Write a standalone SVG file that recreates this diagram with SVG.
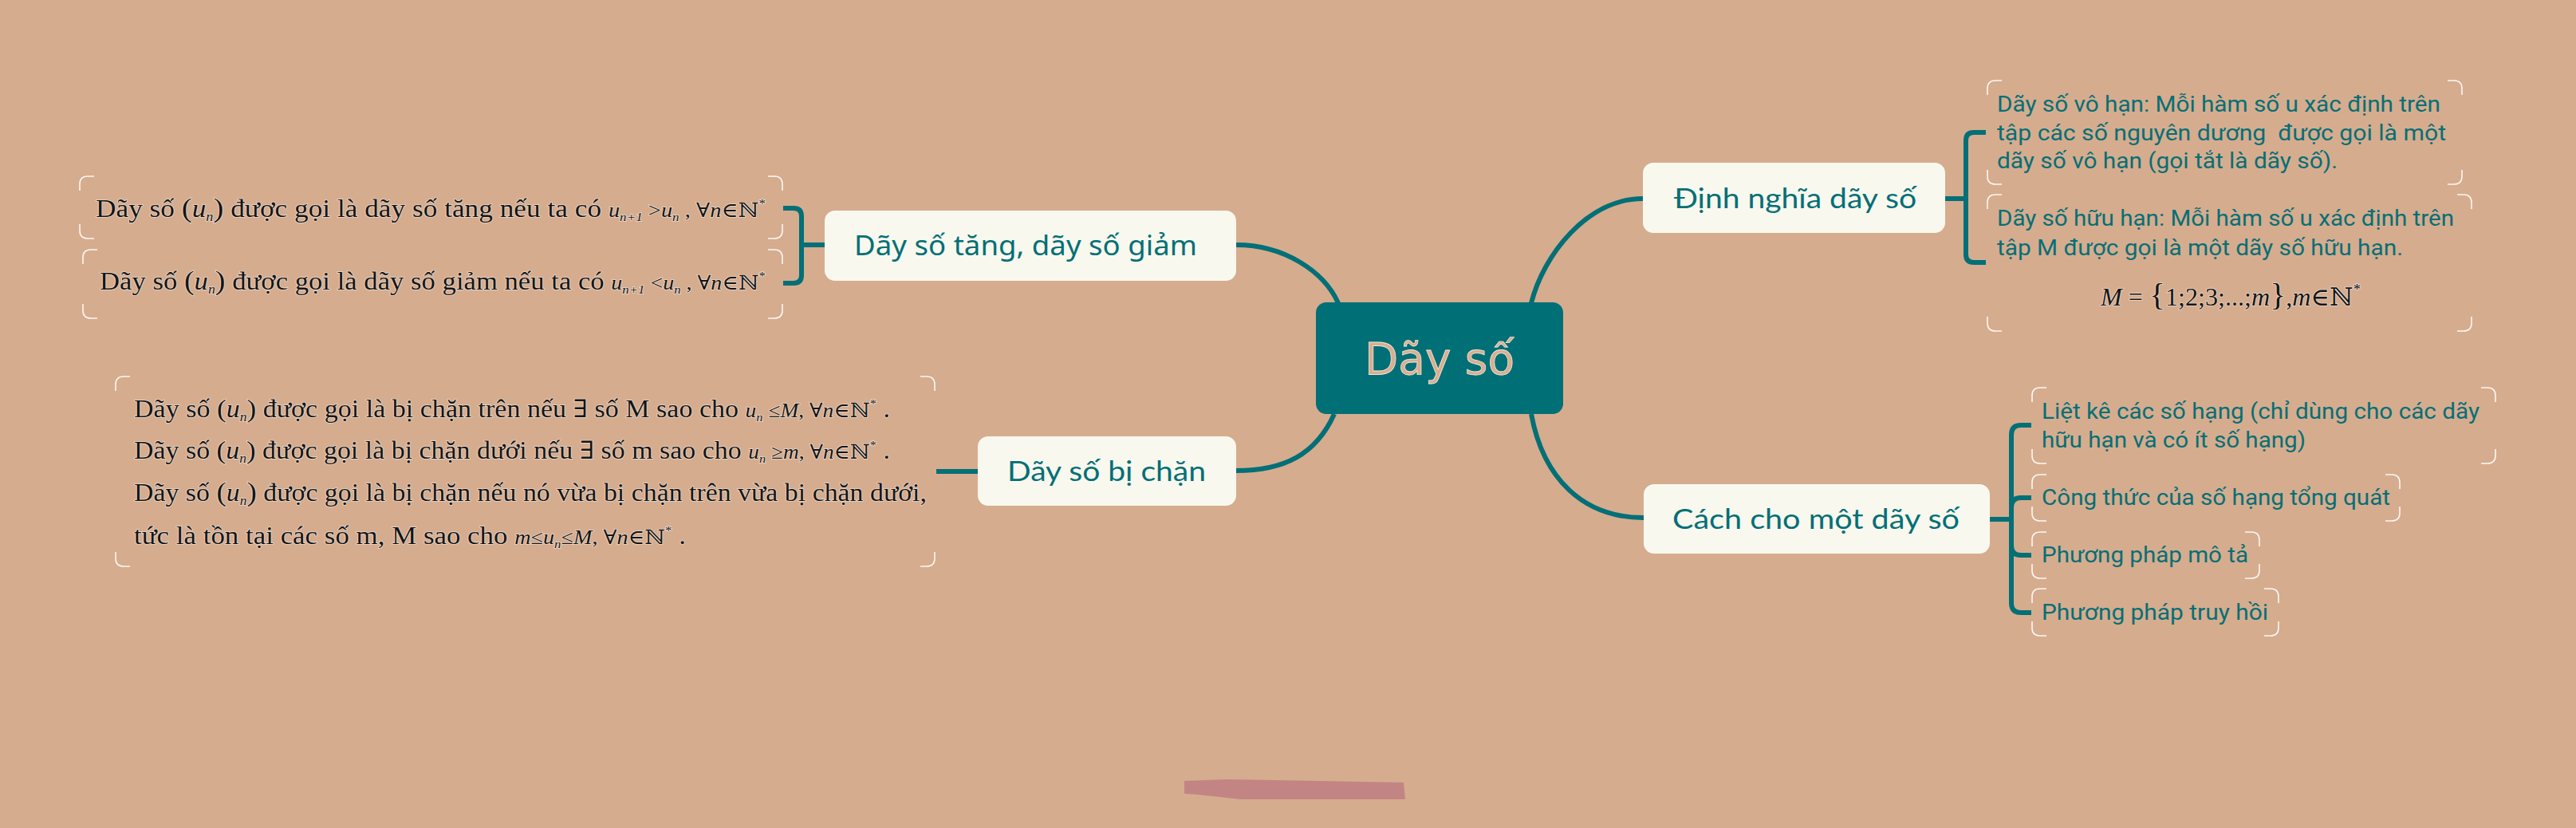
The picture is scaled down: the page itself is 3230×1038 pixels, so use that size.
<svg xmlns="http://www.w3.org/2000/svg" width="3230" height="1038" viewBox="0 0 3230 1038">
<style>
.node{fill:#F8F8EE}
.nt{fill:#036F77;font-family:Lato,"Noto Sans",sans-serif;font-size:35px}
.conn{fill:none;stroke:#036F77;stroke-width:6;stroke-linecap:butt}
.corner{fill:none;stroke:#FFFFFF;stroke-width:1.6;stroke-opacity:0.9}
.it{fill:#056F76;font-family:Roboto,"Noto Sans",sans-serif;font-size:28px;font-weight:400}
.tm{fill:#151515;font-family:"Liberation Serif","DejaVu Serif",serif;font-size:31px;stroke:#FFFFFF;stroke-width:1.6;stroke-opacity:0.55;paint-order:stroke}
.i{font-style:italic}
</style>
<rect width="3230" height="1038" fill="#D6AC8E"/>
<g id="connectors">
<path class="conn" d="M1550,307C1610,307 1660,340 1678,380"/>
<path class="conn" d="M1673,519C1650,570 1610,590 1550,590"/>
<path class="conn" d="M1920,380C1935,320 1990,249 2060,249"/>
<path class="conn" d="M1920,519C1935,600 1985,649 2061,649"/>
<path class="conn" d="M1034,307H1005M1005,307V271Q1005,261 995,261H982M1005,307V345Q1005,355 995,355H982"/>
<path class="conn" d="M1226,591H1174"/>
<path class="conn" d="M2439,249H2465M2465,249V176Q2465,166 2475,166H2490M2465,249V319Q2465,329 2475,329H2490"/>
<path class="conn" d="M2495,651H2522M2522,651V545Q2522,533 2534,533H2547M2522,651V636Q2522,624 2534,624H2547M2522,651V684Q2522,696 2534,696H2547M2522,651V756Q2522,768 2534,768H2547"/>
</g>
<g id="root">
<rect x="1650" y="379" width="310" height="140" rx="13" fill="#006F76"/>
<text x="1711" y="469" textLength="188" lengthAdjust="spacingAndGlyphs" font-family="'DejaVu Sans',sans-serif" font-size="56" fill="#D9AE90" stroke="#F3E6DA" stroke-width="0.8">Dãy số</text>
</g>
<g id="n-tang">
<rect class="node" x="1034" y="264" width="516" height="88" rx="13"/>
<text class="nt" x="1071" y="320" textLength="430" lengthAdjust="spacingAndGlyphs" style="font-family:'Noto Sans','Open Sans',sans-serif;font-size:34px">Dãy số tăng, dãy số giảm</text>
</g>
<g id="n-chan">
<rect class="node" x="1226" y="547" width="324" height="87" rx="13"/>
<text class="nt" x="1263" y="603" textLength="249" lengthAdjust="spacingAndGlyphs">Dãy số bị chặn</text>
</g>
<g id="n-dinhnghia">
<rect class="node" x="2060" y="204" width="379" height="88" rx="13"/>
<text class="nt" x="2099" y="261" textLength="304" lengthAdjust="spacingAndGlyphs">Định nghĩa dãy số</text>
</g>
<g id="n-cachcho">
<rect class="node" x="2061" y="607" width="434" height="87" rx="13"/>
<text class="nt" x="2097" y="663" textLength="360" lengthAdjust="spacingAndGlyphs">Cách cho một dãy số</text>
</g>
<g id="t-tang">
<path class="corner" d="M100,239V231Q100,221 110,221H118M963,221H971Q981,221 981,231V239M981,281V289Q981,299 971,299H963M118,299H110Q100,299 100,289V281"/>
<text class="tm" x="120" y="272" textLength="840" lengthAdjust="spacingAndGlyphs">Dãy số <tspan font-size="34">(</tspan><tspan class="i">u</tspan><tspan class="i" font-size="16" dy="5">n</tspan><tspan font-size="34" dy="-5">)</tspan> được gọi là dãy số tăng nếu ta có <tspan class="i" font-size="25">u</tspan><tspan class="i" font-size="15" dy="5">n+1</tspan><tspan font-size="25" dy="-5"> &gt;</tspan><tspan class="i" font-size="25">u</tspan><tspan class="i" font-size="15" dy="5">n</tspan><tspan font-size="25" dy="-5"> , ∀</tspan><tspan class="i" font-size="25">n</tspan><tspan font-size="25">∈ℕ</tspan><tspan font-size="15" dy="-12">*</tspan></text>
</g>
<g id="t-giam">
<path class="corner" d="M104,331V323Q104,313 114,313H122M963,313H971Q981,313 981,323V331M981,381V389Q981,399 971,399H963M122,399H114Q104,399 104,389V381"/>
<text class="tm" x="125" y="363" textLength="835" lengthAdjust="spacingAndGlyphs">Dãy số <tspan font-size="34">(</tspan><tspan class="i">u</tspan><tspan class="i" font-size="16" dy="5">n</tspan><tspan font-size="34" dy="-5">)</tspan> được gọi là dãy số giảm nếu ta có <tspan class="i" font-size="25">u</tspan><tspan class="i" font-size="15" dy="5">n+1</tspan><tspan font-size="25" dy="-5"> &lt;</tspan><tspan class="i" font-size="25">u</tspan><tspan class="i" font-size="15" dy="5">n</tspan><tspan font-size="25" dy="-5"> , ∀</tspan><tspan class="i" font-size="25">n</tspan><tspan font-size="25">∈ℕ</tspan><tspan font-size="15" dy="-12">*</tspan></text>
</g>
<g id="t-chan">
<path class="corner" d="M145,490V482Q145,472 155,472H163M1154,472H1162Q1172,472 1172,482V490M1172,692V700Q1172,710 1162,710H1154M163,710H155Q145,710 145,700V692"/>
<text class="tm" x="168" y="523" textLength="948" lengthAdjust="spacingAndGlyphs">Dãy số <tspan font-size="32">(</tspan><tspan class="i">u</tspan><tspan class="i" font-size="16" dy="5">n</tspan><tspan font-size="32" dy="-5">)</tspan> được gọi là bị chặn trên nếu ∃ số M sao cho <tspan class="i" font-size="25">u</tspan><tspan class="i" font-size="15" dy="5">n</tspan><tspan font-size="25" dy="-5"> ≤</tspan><tspan class="i" font-size="25">M</tspan><tspan font-size="25">,  ∀</tspan><tspan class="i" font-size="25">n</tspan><tspan font-size="25">∈ℕ</tspan><tspan font-size="15" dy="-12">*</tspan><tspan dy="12"> .</tspan></text>
<text class="tm" x="168" y="575" textLength="948" lengthAdjust="spacingAndGlyphs">Dãy số <tspan font-size="32">(</tspan><tspan class="i">u</tspan><tspan class="i" font-size="16" dy="5">n</tspan><tspan font-size="32" dy="-5">)</tspan> được gọi là bị chặn dưới nếu ∃ số m sao cho <tspan class="i" font-size="25">u</tspan><tspan class="i" font-size="15" dy="5">n</tspan><tspan font-size="25" dy="-5"> ≥</tspan><tspan class="i" font-size="25">m</tspan><tspan font-size="25">,  ∀</tspan><tspan class="i" font-size="25">n</tspan><tspan font-size="25">∈ℕ</tspan><tspan font-size="15" dy="-12">*</tspan><tspan dy="12"> .</tspan></text>
<text class="tm" x="168" y="628" textLength="994" lengthAdjust="spacingAndGlyphs">Dãy số <tspan font-size="34">(</tspan><tspan class="i">u</tspan><tspan class="i" font-size="16" dy="5">n</tspan><tspan font-size="34" dy="-5">)</tspan> được gọi là bị chặn nếu nó vừa bị chặn trên vừa bị chặn dưới,</text>
<text class="tm" x="168" y="682" textLength="692" lengthAdjust="spacingAndGlyphs">tức là tồn tại các số m, M sao cho <tspan class="i" font-size="25">m</tspan><tspan font-size="25">≤</tspan><tspan class="i" font-size="25">u</tspan><tspan class="i" font-size="15" dy="5">n</tspan><tspan font-size="25" dy="-5">≤</tspan><tspan class="i" font-size="25">M</tspan><tspan font-size="25">, ∀</tspan><tspan class="i" font-size="25">n</tspan><tspan font-size="25">∈ℕ</tspan><tspan font-size="15" dy="-12">*</tspan><tspan dy="12"> .</tspan></text>
</g>
<g id="t-vohan">
<path class="corner" d="M2492,119V111Q2492,101 2502,101H2510M3069,101H3077Q3087,101 3087,111V119M3087,213V221Q3087,231 3077,231H3069M2510,231H2502Q2492,231 2492,221V213"/>
<text class="it" x="2504" y="140" textLength="556" lengthAdjust="spacingAndGlyphs">Dãy số vô hạn: Mỗi hàm số u xác định trên</text>
<text class="it" x="2504" y="176" textLength="563" lengthAdjust="spacingAndGlyphs" style="white-space:pre">tập các số nguyên dương  được gọi là một</text>
<text class="it" x="2504" y="211" textLength="427" lengthAdjust="spacingAndGlyphs">dãy số vô hạn (gọi tắt là dãy số).</text>
</g>
<g id="t-huuhan">
<path class="corner" d="M2492,262V254Q2492,244 2502,244H2510M3081,244H3089Q3099,244 3099,254V262M3099,397V405Q3099,415 3089,415H3081M2510,415H2502Q2492,415 2492,405V397"/>
<text class="it" x="2504" y="283" textLength="573" lengthAdjust="spacingAndGlyphs">Dãy số hữu hạn: Mỗi hàm số u xác định trên</text>
<text class="it" x="2504" y="320" textLength="509" lengthAdjust="spacingAndGlyphs">tập M được gọi là một dãy số hữu hạn.</text>
<text class="tm" x="2634" y="383" textLength="326" lengthAdjust="spacingAndGlyphs" font-size="34"><tspan class="i">M</tspan> = <tspan font-size="40">{</tspan>1;2;3;...;<tspan class="i">m</tspan><tspan font-size="40">}</tspan>,<tspan class="i">m</tspan>∈ℕ<tspan font-size="18" dy="-14">*</tspan></text>
</g>
<g id="t-lietke">
<path class="corner" d="M2548,504V496Q2548,486 2558,486H2566M3111,486H3119Q3129,486 3129,496V504M3129,563V571Q3129,581 3119,581H3111M2566,581H2558Q2548,581 2548,571V563"/>
<text class="it" x="2560" y="525" textLength="549" lengthAdjust="spacingAndGlyphs">Liệt kê các số hạng (chỉ dùng cho các dãy</text>
<text class="it" x="2560" y="561" textLength="331" lengthAdjust="spacingAndGlyphs">hữu hạn và có ít số hạng)</text>
</g>
<g id="t-congthuc">
<path class="corner" d="M2548,613V605Q2548,595 2558,595H2566M2991,595H2999Q3009,595 3009,605V613M3009,635V643Q3009,653 2999,653H2991M2566,653H2558Q2548,653 2548,643V635"/>
<text class="it" x="2560" y="633" textLength="437" lengthAdjust="spacingAndGlyphs">Công thức của số hạng tổng quát</text>
</g>
<g id="t-mota">
<path class="corner" d="M2548,685V677Q2548,667 2558,667H2566M2815,667H2823Q2833,667 2833,677V685M2833,707V715Q2833,725 2823,725H2815M2566,725H2558Q2548,725 2548,715V707"/>
<text class="it" x="2560" y="705" textLength="259" lengthAdjust="spacingAndGlyphs">Phương pháp mô tả</text>
</g>
<g id="t-truyhoi">
<path class="corner" d="M2548,756V748Q2548,738 2558,738H2566M2839,738H2847Q2857,738 2857,748V756M2857,779V787Q2857,797 2847,797H2839M2566,797H2558Q2548,797 2548,787V779"/>
<text class="it" x="2560" y="777" textLength="284" lengthAdjust="spacingAndGlyphs">Phương pháp truy hồi</text>
</g>
<polygon points="1485,979 1540,977 1600,978 1760,981 1762,1002 1555,1002 1500,996 1485,995" fill="#C28584"/>
</svg>
